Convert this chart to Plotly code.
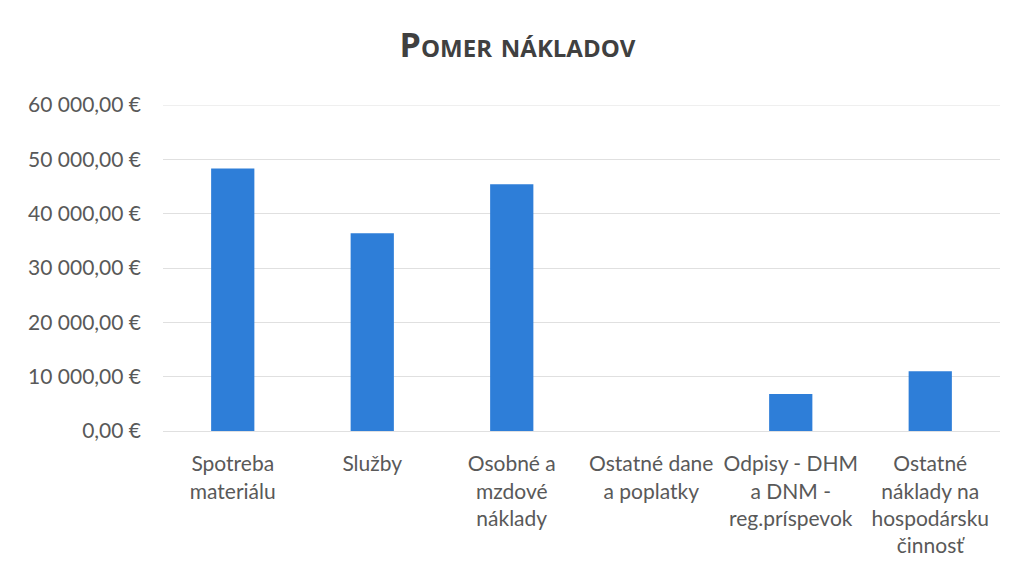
import plotly.graph_objects as go

categories = [
    "Spotreba<br>materiálu",
    "Služby",
    "Osobné a<br>mzdové<br>náklady",
    "Ostatné dane<br>a poplatky",
    "Odpisy - DHM<br>a DNM -<br>reg.príspevok",
    "Ostatné<br>náklady na<br>hospodársku<br>činnosť",
]
values = [48300, 36400, 45400, 0, 6800, 11000]
tick_values = [0, 10000, 20000, 30000, 40000, 50000, 60000]


def euro(v):
    s = f"{v:,.2f}".replace(",", " ").replace(".", ",")
    return s + " €"


tick_text = [euro(v) for v in tick_values]

FONT = "Lato"
GRID = "#E0E0E0"

fig = go.Figure(
    go.Bar(
        x=categories,
        y=values,
        marker=dict(color="#2E7ED8", line=dict(width=0)),
        width=0.31,
    )
)

fig.update_layout(
    width=1017,
    height=578,
    paper_bgcolor="white",
    plot_bgcolor="white",
    margin=dict(l=155, r=25, t=97, b=155, autoexpand=False),
    title=dict(
        text="Pomer nákladov",
        x=0.501,
        xanchor="center",
        y=0.936,
        yanchor="middle",
        font=dict(family="Open Sans", size=34, color="#404040", weight="bold", variant="small-caps"),
    ),
    showlegend=False,
    font=dict(family=FONT, color="#595959", size=21),
)

# top gridline at the highest tick (plotly skips grid lines on the plot edge)
fig.add_shape(
    type="line",
    xref="paper",
    x0=0,
    x1=1,
    yref="y",
    y0=tick_values[-1],
    y1=tick_values[-1],
    line=dict(color=GRID, width=1),
    layer="below",
)

fig.update_yaxes(
    range=[0, 60000],
    tickvals=tick_values,
    ticktext=tick_text,
    showgrid=True,
    gridcolor=GRID,
    gridwidth=1,
    zeroline=False,
    showline=False,
    ticks="",
    automargin=False,
    ticklabelstandoff=21,
    tickfont=dict(family=FONT, size=21, color="#595959"),
)

fig.update_xaxes(
    showline=True,
    linecolor=GRID,
    linewidth=1,
    ticks="",
    automargin=False,
    ticklabelstandoff=14,
    tickfont=dict(family=FONT, size=21, color="#595959"),
    tickangle=0,
)

fig.write_html("out.html")
